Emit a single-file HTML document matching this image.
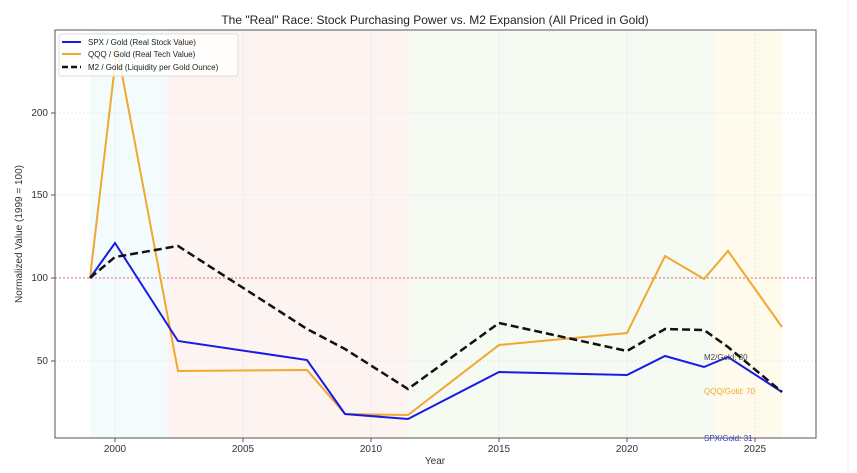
<!DOCTYPE html>
<html><head><meta charset="utf-8"><style>body{margin:0;background:#fff}svg{display:block}text{font-family:"Liberation Sans",sans-serif}</style></head><body>
<svg width="857" height="473" viewBox="0 0 857 473">
<rect x="0" y="0" width="857" height="473" fill="#fff"/>
<line x1="848" y1="0" x2="848" y2="473" stroke="#eee"/>
<text x="435" y="24" font-size="12" text-anchor="middle" fill="#222">The "Real" Race: Stock Purchasing Power vs. M2 Expansion (All Priced in Gold)</text>
<rect x="90" y="30" width="77" height="408" fill="#f3fbfd"/>
<rect x="167" y="30" width="241" height="408" fill="#fdf4f2"/>
<rect x="408" y="30" width="308" height="408" fill="#f5fbf3"/>
<rect x="716" y="30" width="66" height="408" fill="#fefbec"/>
<g stroke="#e4e4e4" stroke-dasharray="2,2" stroke-width="0.8">
<line x1="115" y1="30" x2="115" y2="438"/><line x1="243" y1="30" x2="243" y2="438"/><line x1="371" y1="30" x2="371" y2="438"/><line x1="499" y1="30" x2="499" y2="438"/><line x1="627" y1="30" x2="627" y2="438"/><line x1="755" y1="30" x2="755" y2="438"/>
<line x1="55" y1="113" x2="816" y2="113"/><line x1="55" y1="195" x2="816" y2="195"/><line x1="55" y1="361" x2="816" y2="361"/>
</g>
<line x1="55" y1="278" x2="816" y2="278" stroke="#e06666" stroke-dasharray="2,2" stroke-width="1"/>
<polyline fill="none" stroke="#f0a830" stroke-width="2" points="90,278 117,48 178,371 307,370 345,414 408,415 499,345 627,333 665,256 704,279 728,251 782,327"/>
<polyline fill="none" stroke="#1a1ae6" stroke-width="2" points="90,278 115,243 178,341 307,360 345,414 408,419 499,372 627,375 665,356 704,367 728,357 782,392"/>
<polyline fill="none" stroke="#111" stroke-width="2.5" stroke-dasharray="8,4" points="90,278 115,257 178,246 307,329 345,349 408,389 499,323 627,351 665,329 704,330 728,347 782,392"/>
<text x="704" y="360" font-size="8" fill="#444">M2/Gold: 30</text>
<text x="704" y="394" font-size="8" fill="#f0a830">QQQ/Gold: 70</text>
<text x="704" y="441" font-size="8" fill="#3333dd">SPX/Gold: 31</text>
<rect x="55" y="30" width="761" height="408" fill="none" stroke="#555" stroke-width="1"/>
<g font-size="10" fill="#333" text-anchor="end">
<text x="48" y="116">200</text><text x="48" y="198">150</text><text x="48" y="281">100</text><text x="48" y="364">50</text>
</g>
<g stroke="#555"><line x1="51" y1="113" x2="55" y2="113"/><line x1="51" y1="195" x2="55" y2="195"/><line x1="51" y1="278" x2="55" y2="278"/><line x1="51" y1="361" x2="55" y2="361"/>
<line x1="115" y1="438" x2="115" y2="442"/><line x1="243" y1="438" x2="243" y2="442"/><line x1="371" y1="438" x2="371" y2="442"/><line x1="499" y1="438" x2="499" y2="442"/><line x1="627" y1="438" x2="627" y2="442"/><line x1="755" y1="438" x2="755" y2="442"/></g>
<g font-size="10" fill="#333" text-anchor="middle">
<text x="115" y="452">2000</text><text x="243" y="452">2005</text><text x="371" y="452">2010</text><text x="499" y="452">2015</text><text x="627" y="452">2020</text><text x="755" y="452">2025</text>
<text x="435" y="464">Year</text>
</g>
<text transform="translate(22,234) rotate(-90)" font-size="10" fill="#333" text-anchor="middle">Normalized Value (1999 = 100)</text>
<rect x="59" y="34" width="179" height="42" fill="#fff" fill-opacity="0.85" stroke="#ddd" rx="2"/>
<line x1="62" y1="42" x2="81" y2="42" stroke="#1a1ae6" stroke-width="2"/>
<line x1="62" y1="54" x2="81" y2="54" stroke="#f0a830" stroke-width="2"/>
<line x1="62" y1="67" x2="81" y2="67" stroke="#111" stroke-width="2.5" stroke-dasharray="6,3"/>
<g font-size="8" fill="#222"><text x="88" y="45">SPX / Gold (Real Stock Value)</text><text x="88" y="57">QQQ / Gold (Real Tech Value)</text><text x="88" y="70">M2 / Gold (Liquidity per Gold Ounce)</text></g>
</svg>
</body></html>
